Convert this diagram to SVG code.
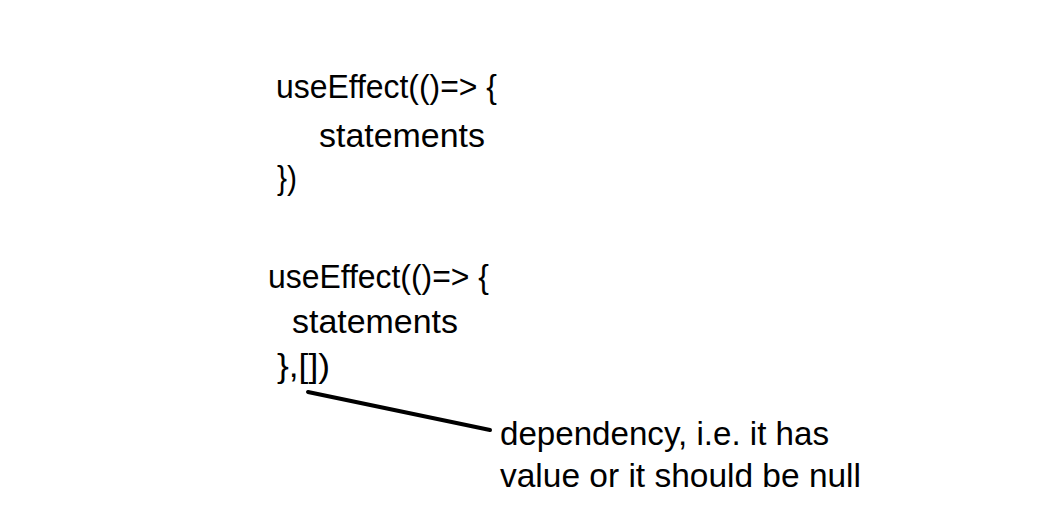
<svg xmlns="http://www.w3.org/2000/svg" width="1046" height="530" viewBox="0 0 1046 530">
<style>
text { font-family: "Liberation Sans", Arial, sans-serif; font-size: 33px; fill: #000; }
.conn { stroke: #000; stroke-width: 4; stroke-linecap: round; fill: none; }
</style>
<rect width="1046" height="530" fill="#fff"/>
<g id="code1">
<text x="276" y="98" textLength="221" lengthAdjust="spacingAndGlyphs">useEffect(()=&gt; {</text>
<text x="319" y="147" textLength="166" lengthAdjust="spacingAndGlyphs">statements</text>
<text x="277" y="189" textLength="20" lengthAdjust="spacingAndGlyphs">})</text>
</g>
<g id="code2">
<text x="268" y="288" textLength="221" lengthAdjust="spacingAndGlyphs">useEffect(()=&gt; {</text>
<text x="292" y="333" textLength="166" lengthAdjust="spacingAndGlyphs">statements</text>
<text x="277" y="377" textLength="53" lengthAdjust="spacingAndGlyphs">},[])</text>
</g>
<g id="note">
<text x="500" y="445" textLength="329" lengthAdjust="spacingAndGlyphs">dependency, i.e. it has</text>
<text x="500" y="487" textLength="361" lengthAdjust="spacingAndGlyphs">value or it should be null</text>
</g>
<g id="connectors">
<line class="conn" x1="308" y1="392" x2="490" y2="430"/>
</g>
</svg>
